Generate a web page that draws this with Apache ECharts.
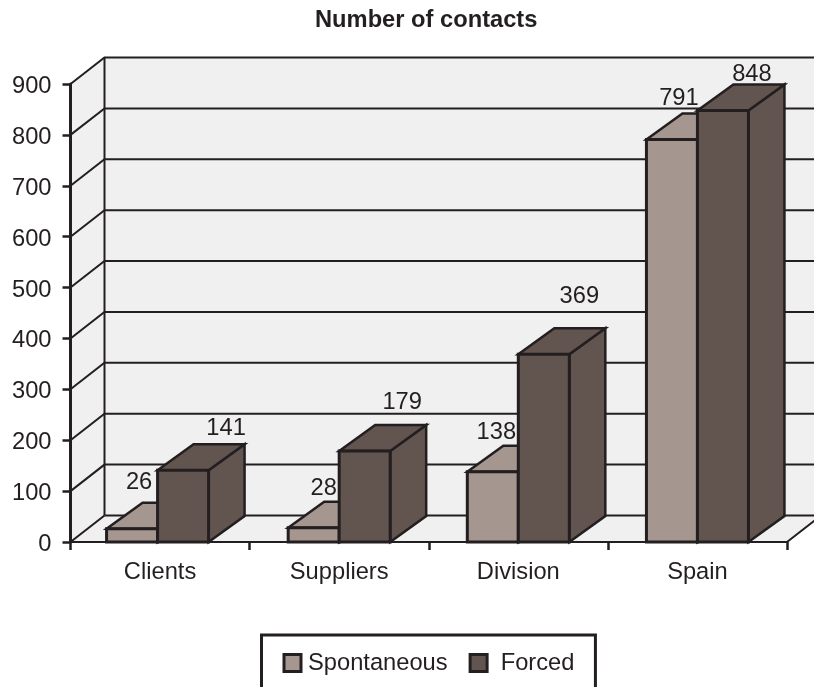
<!DOCTYPE html>
<html>
<head>
<meta charset="utf-8">
<style>html,body{margin:0;padding:0;background:#fff}#chart{width:814px;height:687px}</style>
<script src="https://cdn.jsdelivr.net/npm/echarts@6/dist/echarts.min.js"></script>
</head>
<body>
<div id="chart"></div>
<script>
// Contact counts per channel
const categories = ['Clients', 'Suppliers', 'Division', 'Spain'];
const spontaneous = [26, 28, 138, 791];
const forced = [141, 179, 369, 848];
const yTicks = [0, 100, 200, 300, 400, 500, 600, 700, 800, 900];

// Oblique projection and drawing constants
const INK = '#231f20';
const WALL = '#f0f0f0';
const DEPTH_WALL = [34, -26.5];
const DEPTH_BAR = [36, -26];
const BAR_W = 51;
const FONT = '"Liberation Sans", Arial, sans-serif';
const FS = 23.7;
// Horizontal nudge of each bar pair inside its category band
const groupNudge = [-2.5, 0, 0, 0];
// Label displacement from the top centre of each bar's front face
const spontLabelShift = [[7, -46], [10, -39], [3.5, -39.5], [7, -41]];
const forcedLabelShift = [[43, -42], [37.5, -48], [35.5, -57.5], [29, -36]];

function poly(points, fill, lw) {
  return {
    type: 'polygon',
    shape: { points },
    style: { fill: fill, stroke: INK, lineWidth: lw, lineJoin: 'miter' }
  };
}

// One oblique box: front face, top and right side, plus its value label
function boxRenderer(side, color, shifts) {
  return function (params, api) {
    const i = api.value(0), v = api.value(1);
    const base = api.coord([i, 0]);
    const top = api.coord([i, v]);
    const mid = base[0] + groupNudge[i];
    const xl = side < 0 ? mid - BAR_W : mid;
    const xr = xl + BAR_W;
    const [dx, dy] = DEPTH_BAR;
    const yb = base[1], yt = top[1];
    const shift = shifts[i];
    return {
      type: 'group',
      children: [
        poly([[xr, yb], [xr + dx, yb + dy], [xr + dx, yt + dy], [xr, yt]], color, 2.5),
        poly([[xl, yt], [xl + dx, yt + dy], [xr + dx, yt + dy], [xr, yt]], color, 2.5),
        poly([[xl, yb], [xr, yb], [xr, yt], [xl, yt]], color, 3),
        {
          type: 'text',
          x: (xl + xr) / 2 + shift[0],
          y: yt + shift[1],
          style: {
            text: String(v), fill: INK, font: FS + 'px ' + FONT,
            align: 'center', verticalAlign: 'middle'
          }
        }
      ]
    };
  };
}

// Back wall, left wall and floor, with a gridline for every tick
function wallRenderer(params, api) {
  if (params.dataIndex !== 0) return;
  const cs = params.coordSys;
  const left = cs.x, right = cs.x + cs.width;
  const yTop = api.coord([0, yTicks[yTicks.length - 1]])[1];
  const yBase = api.coord([0, 0])[1];
  const [dx, dy] = DEPTH_WALL;
  const children = [
    { type: 'polygon', shape: { points: [[left + dx, yTop + dy], [right + dx, yTop + dy], [right + dx, yBase + dy], [left + dx, yBase + dy]] }, style: { fill: WALL } },
    { type: 'polygon', shape: { points: [[left, yTop], [left + dx, yTop + dy], [left + dx, yBase + dy], [left, yBase]] }, style: { fill: WALL } },
    { type: 'polygon', shape: { points: [[left, yBase], [right, yBase], [right + dx, yBase + dy], [left + dx, yBase + dy]] }, style: { fill: WALL } }
  ];
  yTicks.forEach(function (t) {
    const y = api.coord([0, t])[1];
    children.push({
      type: 'polyline',
      shape: { points: [t === 0 ? [right, y] : [left, y], t === 0 ? [right + dx, y + dy] : [left + dx, y + dy], t === 0 ? [left + dx, y + dy] : [right + dx, y + dy]] },
      style: { fill: null, stroke: INK, lineWidth: 2 }
    });
  });
  children.push({ type: 'line', shape: { x1: left, y1: yBase, x2: left + dx, y2: yBase + dy }, style: { stroke: INK, lineWidth: 2 } });
  children.push({ type: 'line', shape: { x1: left + dx, y1: yTop + dy, x2: left + dx, y2: yBase + dy }, style: { stroke: INK, lineWidth: 2 } });
  return { type: 'group', children };
}

const chart = echarts.init(document.getElementById('chart'), null, { renderer: 'canvas' });
chart.setOption({
  animation: false,
  backgroundColor: '#fff',
  title: {
    text: 'Number of contacts',
    left: 315, top: 8, padding: 0,
    textStyle: { fontFamily: FONT, fontWeight: 'bold', fontSize: 23.7, color: INK }
  },
  legend: {
    left: 261.5, top: 635,
    padding: [16, 21, 60, 21],
    borderColor: INK, borderWidth: 3,
    itemWidth: 17, itemHeight: 17, itemGap: 21,
    textStyle: { fontFamily: FONT, fontSize: FS, color: INK, padding: [0, 0, 0, 2] },
    formatter: function (n) { return n === 'Forced' ? ' ' + n : n; },
    data: [
      { name: 'Spontaneous', icon: 'rect', itemStyle: { color: '#a59690', borderColor: INK, borderWidth: 3 } },
      { name: 'Forced', icon: 'rect', itemStyle: { color: '#62544f', borderColor: INK, borderWidth: 3 } }
    ]
  },
  grid: { left: 70.5, right: 27, top: 84, height: 458 },
  xAxis: {
    type: 'category', data: categories, z: 5,
    axisLine: { lineStyle: { color: INK, width: 2 } },
    axisTick: { show: true, length: 8, alignWithLabel: false, lineStyle: { color: INK, width: 2.5 } },
    axisLabel: { margin: 18.5, color: INK, fontFamily: FONT, fontSize: FS },
    splitLine: { show: false }
  },
  yAxis: {
    type: 'value', min: 0, max: 900, interval: 100, z: 5,
    axisLine: { show: true, lineStyle: { color: INK, width: 3 } },
    axisTick: { show: true, length: 8, lineStyle: { color: INK, width: 2.5 } },
    axisLabel: { margin: 19, color: INK, fontFamily: FONT, fontSize: FS, verticalAlign: 'top', lineHeight: 5 },
    splitLine: { show: false }
  },
  series: [
    { type: 'custom', name: 'walls', z: 1, silent: true, renderItem: wallRenderer, data: yTicks.map(t => [0, t]), encode: { x: 0, y: 1 } },
    { type: 'custom', name: 'Spontaneous', z: 2, renderItem: boxRenderer(-1, '#a59690', spontLabelShift), data: spontaneous.map((v, i) => [i, v]), encode: { x: 0, y: 1 } },
    { type: 'custom', name: 'Forced', z: 3, renderItem: boxRenderer(1, '#62544f', forcedLabelShift), data: forced.map((v, i) => [i, v]), encode: { x: 0, y: 1 } }
  ]
});
</script>
</body>
</html>
